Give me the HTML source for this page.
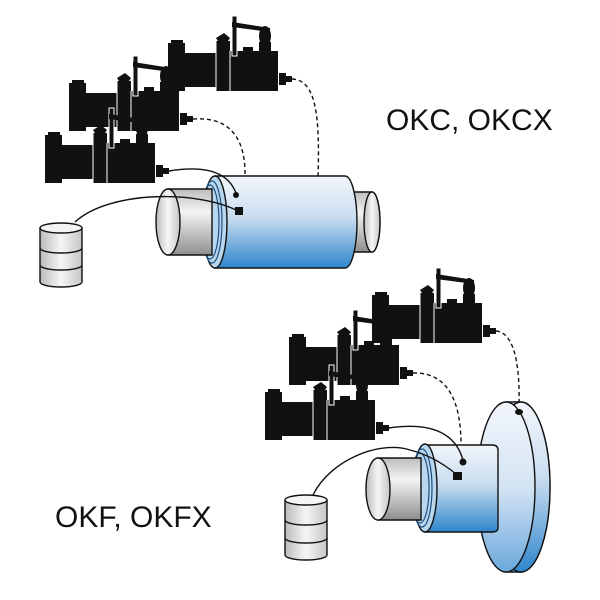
<!DOCTYPE html>
<html><head><meta charset="utf-8"><style>
html,body{margin:0;padding:0;background:#fff;width:600px;height:600px;overflow:hidden}
svg text{font-family:"Liberation Sans",sans-serif;fill:#111}
</style></head><body>
<svg width="600" height="600" viewBox="0 0 600 600" xmlns="http://www.w3.org/2000/svg">
<defs>
<linearGradient id="blue" x1="0" y1="0" x2="0" y2="1">
<stop offset="0" stop-color="#f2f6fb"/><stop offset="0.45" stop-color="#c9ddf0"/><stop offset="1" stop-color="#2f86cc"/>
</linearGradient>
<linearGradient id="blueh" x1="0" y1="0" x2="0" y2="1">
<stop offset="0" stop-color="#f2f6fb"/><stop offset="0.5" stop-color="#d4e4f3"/><stop offset="1" stop-color="#6aa9dc"/>
</linearGradient>
<linearGradient id="grey" x1="0" y1="0" x2="0" y2="1">
<stop offset="0" stop-color="#bdbdbd"/><stop offset="0.35" stop-color="#f4f4f4"/><stop offset="1" stop-color="#8e8e8e"/>
</linearGradient>
<linearGradient id="greyh" x1="0" y1="0" x2="1" y2="0">
<stop offset="0" stop-color="#bbbbbb"/><stop offset="0.5" stop-color="#f6f6f6"/><stop offset="1" stop-color="#c5c5c5"/>
</linearGradient>
<g id="pump">
<rect x="3" y="24" width="12" height="4" fill="#111"/>
<rect x="0" y="27" width="17" height="48" fill="#111"/>
<rect x="17" y="37" width="31" height="34" fill="#111"/>
<rect x="48" y="25" width="14" height="50" fill="#111"/>
<rect x="62" y="35" width="48" height="40" fill="#111"/>
<line x1="62" y1="35" x2="62" y2="75" stroke="#fff" stroke-width="1"/>
<line x1="48" y1="25" x2="48" y2="75" stroke="#fff" stroke-width="1"/>
<rect x="75" y="31" width="10" height="4" fill="#111"/>
<polygon points="48,22 56,17 62,22 60,25 50,25" fill="#111"/>
<rect x="64" y="0" width="5" height="40" fill="#111" stroke="#fff" stroke-width="1"/>
<polygon points="64,6 102,12 102,16 64,11" fill="#111"/>
<ellipse cx="97" cy="20" rx="6" ry="10" fill="#111"/>
<rect x="91" y="26" width="12" height="9" fill="#111"/>
<rect x="111" y="57" width="7" height="12" fill="#111"/>
<rect x="118" y="60" width="6" height="6" fill="#111"/>
</g>
</defs>

<!-- TOP GROUP -->
<g fill="none" stroke="#111" stroke-width="1.4">
<path d="M292,79 C316,80 320,115 318,178" stroke-dasharray="4,3"/>
<path d="M193,119 C235,116 246,145 245,178" stroke-dasharray="4,3"/>
</g>
<use href="#pump" x="168" y="16"/>
<use href="#pump" x="69" y="56"/>
<use href="#pump" x="45" y="108"/>

<path d="M345,192 L372,192 A8,30 0 0 1 372,252 L345,252 Z" fill="url(#grey)" stroke="#111" stroke-width="1.4"/>
<ellipse cx="372" cy="222" rx="8" ry="30" fill="url(#greyh)" stroke="#111" stroke-width="1.4"/>
<path d="M215,176 L345,176 A12,46 0 0 1 345,268 L215,268 Z" fill="url(#blue)" stroke="#111" stroke-width="1.4"/>
<ellipse cx="215" cy="222" rx="12" ry="46" fill="#b9d6ef" stroke="#111" stroke-width="1.4"/>
<ellipse cx="212" cy="222" rx="10" ry="41" fill="none" stroke="#1d4f80" stroke-width="1.2"/>
<ellipse cx="210" cy="222" rx="9" ry="37" fill="none" stroke="#1d4f80" stroke-width="1.2"/>
<path d="M168,189 L212,189 L212,255 L168,255 Z" fill="url(#grey)" stroke="#111" stroke-width="1.4"/>
<ellipse cx="168" cy="222" rx="12" ry="33" fill="url(#greyh)" stroke="#111" stroke-width="1.4"/>
<g fill="none" stroke="#111" stroke-width="1.4">
<path d="M169,171 C205,165 228,172 236,193"/>
<path d="M75,222 C110,190 200,190 240,212"/>
</g>
<circle cx="236" cy="195" r="3" fill="#111"/>
<rect x="235" y="207" width="8" height="8" fill="#111"/>
<path d="M40,228 L82,228 L82,282 A21,5 0 0 1 40,282 Z" fill="url(#greyh)" stroke="#111" stroke-width="1.4"/>
<ellipse cx="61" cy="228" rx="21" ry="5" fill="#f4f4f4" stroke="#111" stroke-width="1.4"/>
<path d="M40,248 A21,5 0 0 0 82,248 M40,265 A21,5 0 0 0 82,265" fill="none" stroke="#111" stroke-width="1.4"/>

<text x="386" y="130" font-size="30">OKC, OKCX</text>

<!-- BOTTOM GROUP -->
<g fill="none" stroke="#111" stroke-width="1.4">
<path d="M496,331 C516,333 520,370 519,408" stroke-dasharray="4,3"/>
<path d="M413,373 C450,372 461,405 461,445" stroke-dasharray="4,3"/>
</g>
<use href="#pump" x="372" y="268"/>
<use href="#pump" x="289" y="310"/>
<use href="#pump" x="265" y="365"/>

<!-- flange -->
<path d="M506,402 L521,402 A29,85 0 0 1 521,572 L506,572 Z" fill="url(#blueh)" stroke="#111" stroke-width="1.4"/>
<ellipse cx="521" cy="487" rx="29" ry="85" fill="url(#blue)" stroke="#111" stroke-width="1.4"/>
<ellipse cx="506" cy="487" rx="29" ry="85" fill="url(#blueh)" stroke="#111" stroke-width="1.4"/>
<ellipse cx="519" cy="412" rx="4" ry="3" fill="#111"/>
<path d="M425,445 L492,445 Q498,445 498,450 L498,528 Q498,532 492,532 L425,532 Z" fill="url(#blue)" stroke="#111" stroke-width="1.4"/>
<ellipse cx="425" cy="488" rx="12" ry="44" fill="#b9d6ef" stroke="#111" stroke-width="1.4"/>
<ellipse cx="422" cy="488" rx="10" ry="39" fill="none" stroke="#1d4f80" stroke-width="1.2"/>
<ellipse cx="420" cy="488" rx="9" ry="35" fill="none" stroke="#1d4f80" stroke-width="1.2"/>
<path d="M378,458 L421,458 L421,520 L378,520 Z" fill="url(#grey)" stroke="#111" stroke-width="1.4"/>
<ellipse cx="378" cy="489" rx="12" ry="31" fill="url(#greyh)" stroke="#111" stroke-width="1.4"/>
<g fill="none" stroke="#111" stroke-width="1.4">
<path d="M389,428 C430,422 455,432 463,460"/>
<path d="M313,495 C330,460 380,440 410,450 C430,455 445,465 456,474"/>
</g>
<circle cx="463" cy="462" r="3.5" fill="#111"/>
<rect x="453" y="472" width="9" height="8" fill="#111"/>
<path d="M285,500 L327,500 L327,555 A21,5 0 0 1 285,555 Z" fill="url(#greyh)" stroke="#111" stroke-width="1.4"/>
<ellipse cx="306" cy="500" rx="21" ry="5" fill="#f4f4f4" stroke="#111" stroke-width="1.4"/>
<path d="M285,520 A21,5 0 0 0 327,520 M285,538 A21,5 0 0 0 327,538" fill="none" stroke="#111" stroke-width="1.4"/>

<text x="55" y="527" font-size="30">OKF, OKFX</text>
</svg>
</body></html>
